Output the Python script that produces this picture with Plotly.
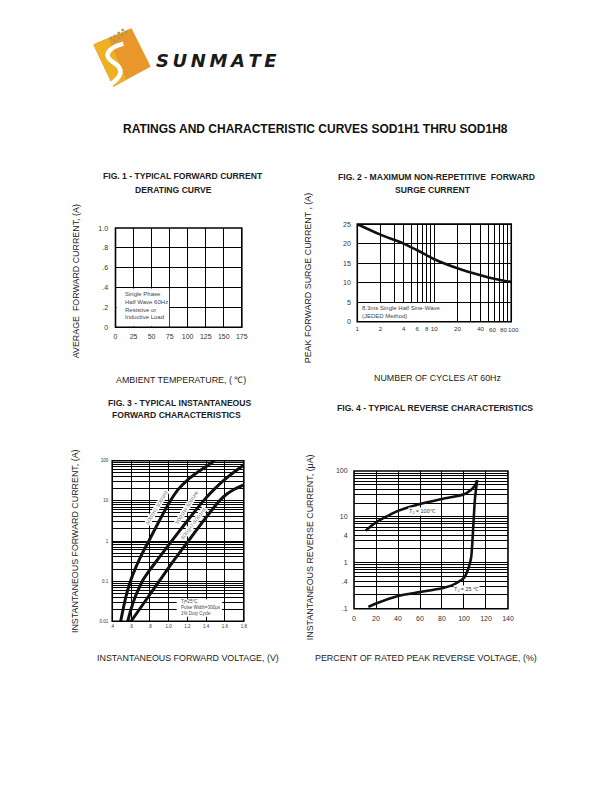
import math
import plotly.graph_objects as go

W, H = 610, 810

# ---------------- data ----------------
# Fig 1 (grid only, no curve drawn in the reference)
fig1_x_ticks = [0, 25, 50, 75, 100, 125, 150, 175]
fig1_y_ticks = [0, 0.2, 0.4, 0.6, 0.8, 1.0]
fig1_y_text = ["0", ".2", ".4", ".6", ".8", "1.0"]

# Fig 2
fig2_cycles = [1, 2, 4, 6, 8, 10, 20, 40, 60, 80, 100]
fig2_surge = [25.0, 22.3, 20.0, 18.3, 17.0, 16.0, 13.7, 11.9, 11.0, 10.5, 10.2]
fig2_x_ticks = [1, 2, 4, 6, 8, 10, 20, 40]
fig2_x_ticks_crowded = [60, 80, 100]          # labelled separately (tight spacing)
fig2_x_minor = [3, 5, 7, 9, 30, 50, 70, 90, 60, 80, 100]
fig2_y_ticks = [0, 5, 10, 15, 20, 25]

# Fig 3
fig3_v_h1 = [0.49, 0.52, 0.55, 0.58, 0.62, 0.70, 0.80, 0.90, 1.00, 1.10, 1.20, 1.30, 1.40, 1.49]
fig3_i_h1 = [0.01, 0.0224, 0.0447, 0.0794, 0.148, 0.398, 1.12, 3.16, 8.5, 19, 33, 50, 72, 100]
fig3_v_h4 = [0.565, 0.60, 0.64, 0.68, 0.72, 0.80, 0.90, 1.04, 1.20, 1.37, 1.50, 1.65, 1.80]
fig3_i_h4 = [0.01, 0.02, 0.038, 0.063, 0.1, 0.19, 0.39, 1.05, 3.2, 10, 21, 43, 78]
fig3_v_h7 = [0.60, 0.75, 0.90, 1.05, 1.21, 1.37, 1.45, 1.54, 1.62, 1.70, 1.80]
fig3_i_h7 = [0.01, 0.0316, 0.1, 0.316, 1.0, 3.16, 5.5, 10, 14.8, 19.5, 25]
fig3_x_ticks = [0.4, 0.6, 0.8, 1.0, 1.2, 1.4, 1.6, 1.8]
fig3_x_text = [".4", ".6", ".8", "1.0", "1.2", "1.4", "1.6", "1.8"]
fig3_y_ticks = [0.01, 0.1, 1, 10, 100]
fig3_y_text = ["0.01", "0.1", "1", "10", "100"]
fig3_y_minor = [m * 10 ** e for e in (-2, -1, 0, 1) for m in range(2, 10)]

# Fig 4
fig4_x_100 = [10.5, 20, 30, 40, 60, 80, 100, 106, 110, 112]
fig4_y_100 = [5.0, 7.6, 10.3, 13.5, 19, 24.5, 31, 38, 48, 63]
fig4_x_25 = [13, 20, 40, 60, 80, 90, 100, 104, 106.5, 107.5, 108.5, 110, 112]
fig4_y_25 = [0.11, 0.13, 0.19, 0.23, 0.28, 0.33, 0.47, 0.75, 1.3, 2.5, 6.5, 25, 63]
fig4_x_ticks = [0, 20, 40, 60, 80, 100, 120, 140]
fig4_y_ticks = [0.1, 0.4, 1, 4, 10, 100]
fig4_y_text = [".1", ".4", "1", "4", "10", "100"]
fig4_y_minor = [m * 10 ** e for e in (-1, 0, 1) for m in range(2, 10)]

# ---------------- helpers ----------------
def px(x):
    return x / W


def py(y):
    return 1 - y / H


SANS = "Liberation Sans, Arial, sans-serif"
TXT = "#222"

fig = go.Figure()

# traces
fig.add_trace(go.Scatter(x=[None], y=[None], xaxis="x", yaxis="y", showlegend=False, hoverinfo="skip"))
fig.add_trace(go.Scatter(x=fig2_cycles, y=fig2_surge, xaxis="x2", yaxis="y2", mode="lines",
                         line=dict(color="#111", width=2.6, shape="spline", smoothing=0.8), showlegend=False))
for vx, iy in ((fig3_v_h1, fig3_i_h1), (fig3_v_h4, fig3_i_h4), (fig3_v_h7, fig3_i_h7)):
    fig.add_trace(go.Scatter(x=vx, y=iy, xaxis="x3", yaxis="y3", mode="lines",
                             line=dict(color="#111", width=3, shape="spline", smoothing=0.6), showlegend=False))
fig.add_trace(go.Scatter(x=fig4_x_100, y=fig4_y_100, xaxis="x4", yaxis="y4", mode="lines",
                         line=dict(color="#111", width=2.6, shape="spline", smoothing=0.8), showlegend=False))
fig.add_trace(go.Scatter(x=fig4_x_25, y=fig4_y_25, xaxis="x4", yaxis="y4", mode="lines",
                         line=dict(color="#111", width=2.6, shape="spline", smoothing=0.6), showlegend=False))


def ax(domain, anchor, rng, tickvals, ticktext=None, typ="linear", size=7, ticklen=3, gw=1, minor=None):
    d = dict(domain=domain, anchor=anchor, range=rng, type=typ, tickmode="array", tickvals=tickvals,
             showgrid=True, gridcolor="#000", gridwidth=gw, zeroline=False, showline=False,
             ticks="outside", ticklen=ticklen, tickcolor="rgba(0,0,0,0)", tickangle=0,
             tickfont=dict(family=SANS, size=size, color="#333"), fixedrange=True)
    if ticktext is not None:
        d["ticktext"] = ticktext
    if minor is not None:
        d["minor"] = dict(tickmode="array", tickvals=minor, showgrid=True, gridcolor="#000", gridwidth=gw,
                          ticks="")
    return d


# plot areas in page pixels
P1 = (115, 243, 226, 326)
P2 = (360, 516, 222, 320.5)
P3 = (111.7, 245, 460.7, 622.7)
P4 = (356.7, 512.7, 471, 610)


def xd(p):
    return [px(p[0]), px(p[1])]


def yd(p):
    return [py(p[3]), py(p[2])]


FIG2_TICK = 6.2
fig.update_layout(
    xaxis=ax(xd(P1), "y", [0, 175], fig1_x_ticks, ticklen=2),
    yaxis=ax(yd(P1), "x", [0, 1], fig1_y_ticks, fig1_y_text, ticklen=5),
    xaxis2=ax(xd(P2), "y2", [0, 2], fig2_x_ticks, [str(v) for v in fig2_x_ticks], typ="log", size=FIG2_TICK,
              ticklen=1, minor=fig2_x_minor),
    yaxis2=ax(yd(P2), "x2", [0, 25], fig2_y_ticks, ticklen=4),
    xaxis3=ax(xd(P3), "y3", [0.4, 1.8], fig3_x_ticks, fig3_x_text, size=4.5, ticklen=0),
    yaxis3=ax(yd(P3), "x3", [-2, 2], fig3_y_ticks, fig3_y_text, typ="log", size=4.5, ticklen=2,
              minor=fig3_y_minor),
    xaxis4=ax(xd(P4), "y4", [0, 140], fig4_x_ticks, ticklen=3),
    yaxis4=ax(yd(P4), "x4", [-1, 2], fig4_y_ticks, fig4_y_text, typ="log", ticklen=4, minor=fig4_y_minor),
)

shapes = []


def wbox(x0, x1, y0, y1):
    shapes.append(dict(type="rect", xref="paper", yref="paper", x0=px(x0), x1=px(x1), y0=py(y1), y1=py(y0),
                       fillcolor="white", line=dict(width=0), layer="above"))


# white boxes behind notes
wbox(116, 169.5, 287, 325.2)
wbox(361, 447, 301.5, 319.7)
wbox(177, 223, 600.5, 618)

# borders
for sfx in ["", "2", "3", "4"]:
    shapes.append(dict(type="rect", xref="x%s domain" % sfx, yref="y%s domain" % sfx, x0=0, x1=1, y0=0, y1=1,
                       line=dict(color="#000", width=1.6), fillcolor="rgba(0,0,0,0)", layer="above"))


# ---- logo ----
def pp(pts):
    s = "M %f %f " % (px(pts[0][0]), py(pts[0][1]))
    for x, y in pts[1:]:
        s += "L %f %f " % (px(x), py(y))
    return s + "Z"


shapes.append(dict(type="path", xref="paper", yref="paper",
                   path=pp([(93, 41), (131, 25), (150, 63), (113, 83)]),
                   fillcolor="#E9972A", line=dict(color="#E9972A", width=1), layer="above"))
shapes.append(dict(type="path", xref="paper", yref="paper",
                   path=pp([(93, 41), (108, 35), (126, 76), (113, 83)]),
                   fillcolor="#EDB124", line=dict(width=0), layer="above"))
spath = "M %f %f C %f %f %f %f %f %f C %f %f %f %f %f %f" % (
    px(123), py(40), px(105), py(45), px(103), py(53), px(113), py(59),
    px(124), py(65), px(122), py(74), px(108), py(82))
shapes.append(dict(type="path", xref="paper", yref="paper", path=spath,
                   line=dict(color="white", width=4.5), layer="above"))
for (dx, dy) in [(113, 31), (117, 28), (121, 25), (117, 33), (121, 30), (125, 27), (113, 36), (109, 33)]:
    shapes.append(dict(type="rect", xref="paper", yref="paper", x0=px(dx), x1=px(dx + 2.5), y0=py(dy + 2.5),
                       y1=py(dy), fillcolor="#94A35A", line=dict(width=0), layer="above"))

annotations = []


def ann(text, x, y, size, family=SANS, angle=0, color=TXT, xanchor="center", bg=None, align="center"):
    a = dict(text=text, x=px(x), y=py(y), xref="paper", yref="paper", showarrow=False,
             font=dict(family=family, size=size, color=color), textangle=angle,
             xanchor=xanchor, yanchor="middle", align=align)
    if bg:
        a["bgcolor"] = bg
        a["borderpad"] = 0
    annotations.append(a)


# crowded fig 2 tick labels, placed on the x2 axis scale with small nudges
for v, shift in zip(fig2_x_ticks_crowded, [-1.5, -0.5, 2.5]):
    annotations.append(dict(text=str(v), xref="x2", yref="y2 domain", x=math.log10(v), y=0,
                            xanchor="center", yanchor="top", xshift=shift, yshift=-2.2, showarrow=False,
                            font=dict(family=SANS, size=FIG2_TICK, color="#333")))

# logo text (letters spread with thin spaces to match the wide logotype)
ann("<b><i>" + "\u2009".join("SUNMATE") + "</i></b>", 217.5, 57, 18, family="DejaVu Sans, sans-serif",
    color="#1a1a1a")

# header
ann("<b>RATINGS AND CHARACTERISTIC CURVES SOD1H1 THRU SOD1H8</b>", 317.5, 126, 12, color="#111")

# figure titles
TS = 8.6
ann("<b>FIG. 1 - TYPICAL FORWARD CURRENT</b>", 183, 174, TS)
ann("<b>DERATING CURVE</b>", 173.7, 187.7, TS)
ann("<b>FIG. 2 - MAXIMUM NON-REPETITIVE  FORWARD</b>", 440, 175, TS)
ann("<b>SURGE CURRENT</b>", 436.7, 187.3, TS)
ann("<b>FIG. 3 - TYPICAL INSTANTANEOUS</b>", 180.3, 402, TS)
ann("<b>FORWARD CHARACTERISTICS</b>", 177, 415, TS)
ann("<b>FIG. 4 - TYPICAL REVERSE CHARACTERISTICS</b>", 438.3, 407.3, TS)

# axis titles
AS = 8.9
ann("AVERAGE  FORWARD CURRENT, (A)", 75, 279.7, AS, angle=-90)
ann("AMBIENT TEMPERATURE, ( \u2103)", 181.3, 379, AS)
ann("PEAK FORWARD SURGE CURRENT , (A)", 310, 276.7, AS, angle=-90)
ann("NUMBER OF CYCLES AT 60Hz", 441, 377, AS)
ann("INSTANTANEOUS FORWARD CURRENT, (A)", 74, 541.7, AS, angle=-90)
ann("INSTANTANEOUS FORWARD VOLTAGE, (V)", 188.3, 660, AS)
ann("INSTANTANEOUS REVERSE CURRENT, (\u03bcA)", 311.7, 548.3, AS, angle=-90)
ann("PERCENT OF RATED PEAK REVERSE VOLTAGE, (%)", 430, 660, AS)

# notes
ann("Single Phase<br>Half Wave 60Hz<br>Resistive or<br>Inductive Load", 123, 304.5, 6,
    color="#444", xanchor="left", align="left")
ann("8.3ms Single Half Sine-Wave<br>(JEDED Method)", 362.5, 310.7, 6, color="#444",
    xanchor="left", align="left")
ann("Tj=25\u00b0C<br>Pulse Width=300\u03bcs<br>1% Duty Cycle", 179, 609, 4.5, color="#444",
    xanchor="left", align="left")

# curve labels fig 3
ann("SOD1H1-SOD1H3", 156.7, 507.5, 4.6, angle=-59, color="#666", bg="white")
ann("SOD1H4-SOD1H6", 187.5, 508.3, 4.6, angle=-57, color="#666", bg="white")
ann("SOD1H7-SOD1H8", 194, 524, 4.6, angle=-53, color="#666", bg="white")

# curve labels fig 4
ann("T<sub>J</sub> = 100\u2103", 426, 511.7, 5.5, color="#333", bg="white")
ann("T<sub>J</sub> = 25 \u2103", 471, 590.7, 5.5, color="#333", bg="white")

fig.update_layout(
    width=W, height=H, margin=dict(l=0, r=0, t=0, b=0),
    paper_bgcolor="white", plot_bgcolor="white",
    shapes=shapes, annotations=annotations, showlegend=False,
)

fig.write_html("out.html", config={"displayModeBar": False},
               post_script="document.body.style.margin='0px';")
